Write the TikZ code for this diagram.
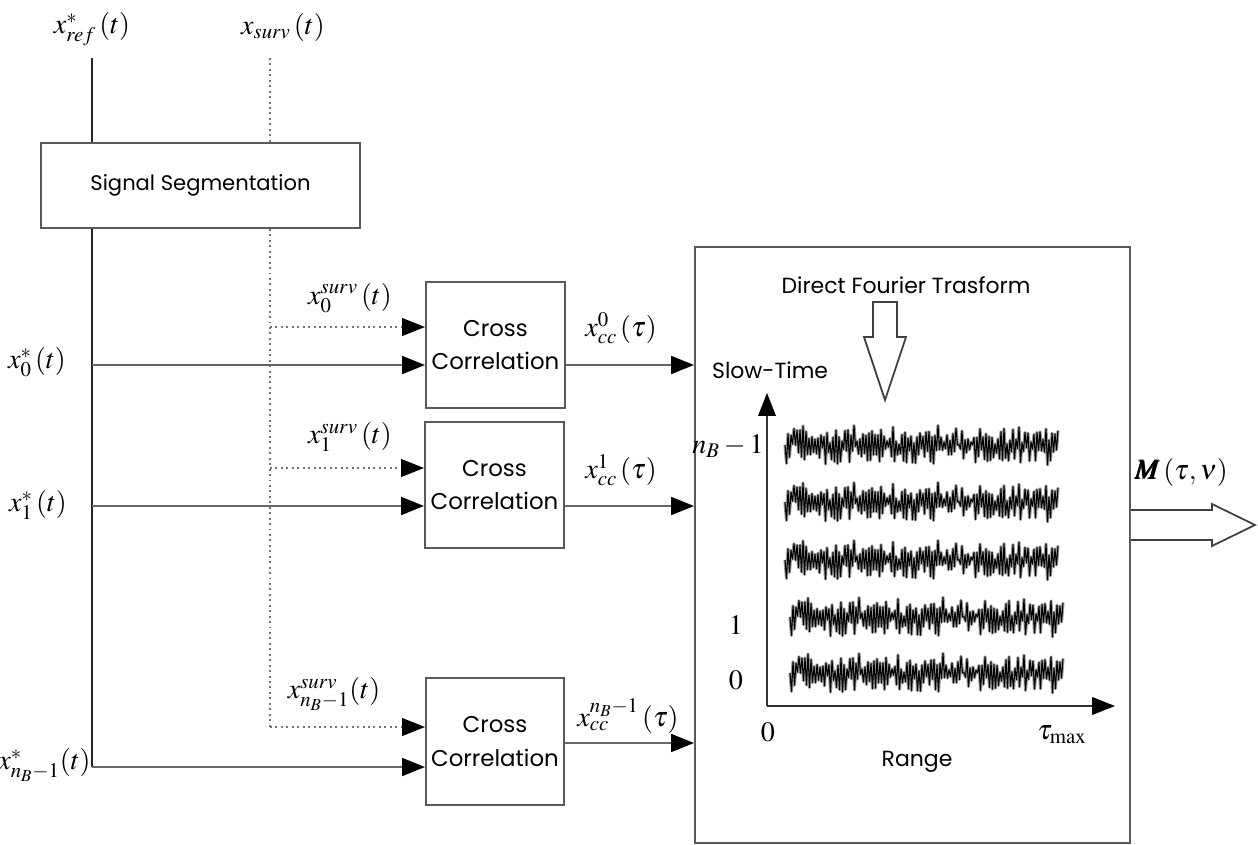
\documentclass[tikz,border=0pt]{standalone}
\usepackage[no-math]{fontspec}
\usepackage{amsmath}
\usepackage{mathptmx}
\usepackage{bm}
\newfontfamily\gothic{Poppins}
\usetikzlibrary{arrows.meta}

% one noisy row of the range profile
\newcommand{\noiserow}[2]{%
  \pgfmathsetseed{4711}
  \draw[black!40, line width=1.8pt, line join=round]
    (#1,#2) \foreach \k in {1,...,182}{ -- ({#1+1.5*\k},{#2+(2*mod(\k,2)-1)*(2+16*rnd)+3*rand}) };
  \pgfmathsetseed{4711}
  \draw[black, line width=0.6pt, line join=round]
    (#1,#2) \foreach \k in {1,...,182}{ -- ({#1+1.5*\k},{#2+(2*mod(\k,2)-1)*(2+16*rnd)+3*rand}) };
}

\begin{document}
\begin{tikzpicture}[x=0.02cm, y=-0.02cm,
  block/.style={draw=black!65, line width=1.1pt, font=\gothic\fontsize{13}{19}\selectfont, align=center, inner sep=0pt},
  lbl/.style={font=\fontsize{16}{18}\selectfont, inner sep=0pt},
  txt/.style={font=\gothic\fontsize{12.5}{15}\selectfont, inner sep=1pt},
  refline/.style={draw=black!85, line width=0.9pt},
  survline/.style={draw=black!55, line width=1.1pt, dotted},
  sig/.style={draw=black!60, line width=1.6pt, -{Triangle[length=13pt,width=10pt,color=black]}},
  dsig/.style={draw=black!55, line width=1.1pt, dotted, -{Triangle[length=13pt,width=10pt,color=black]}},
  axis/.style={draw=black!80, line width=0.9pt, -{Triangle[length=13pt,width=10pt,color=black]}},
  hollow/.style={draw=black!75, line width=1pt, fill=white}]

\useasboundingbox (0,0) rectangle (1258,845);

% Blocks
\node[block, minimum width=6.38cm, minimum height=1.7cm, font=\gothic\fontsize{12}{15}\selectfont] (seg) at (200.5,185.5) {Signal Segmentation};
\node[block, minimum width=2.78cm, minimum height=2.52cm] (cc0) at (495.5,345) {Cross\\Correlation};
\node[block, minimum width=2.78cm, minimum height=2.52cm] (cc1) at (494.5,485) {Cross\\Correlation};
\node[block, minimum width=2.76cm, minimum height=2.54cm] (ccN) at (495,741.5) {Cross\\Correlation};
\node[draw=black!65, line width=1.1pt, minimum width=8.7cm, minimum height=11.92cm] (dft) at (912.5,545) {};

% Input signals
\coordinate (reftop) at (92,58);
\coordinate (survtop) at (270,58);
\node[lbl] (refin) at (92,29) {$x^{*}_{ref}\left(t\right)$};
\node[lbl] (survin) at (283,27) {$x_{surv}\left(t\right)$};

\draw[refline] (reftop) -- (reftop |- seg.north);
\draw[survline] (survtop) -- (survtop |- seg.north);

% Trunk points
\coordinate (ref0) at (92,365);
\coordinate (ref1) at (92,506);
\coordinate (refN) at (92,767);
\coordinate (surv0) at (270,327);
\coordinate (surv1) at (270,468);
\coordinate (survN) at (270,727);

\draw[refline] (reftop |- seg.south) -- (refN);
\draw[survline] (survtop |- seg.south) -- (survN);

% Branches into the correlators
\draw[sig] (ref0) -- (ref0 -| cc0.west);
\draw[sig] (ref1) -- (ref1 -| cc1.west);
\draw[sig] (refN) -- (refN -| ccN.west);
\draw[dsig] (surv0) -- (surv0 -| cc0.west);
\draw[dsig] (surv1) -- (surv1 -| cc1.west);
\draw[dsig] (survN) -- (survN -| ccN.west);

\node[lbl] (in0) at (37,362) {$x^{*}_{0}\left(t\right)$};
\node[lbl] (in1) at (38,505) {$x^{*}_{1}\left(t\right)$};
\node[lbl, anchor=east] (inN) at (91,765) {$x^{*}_{n_B-1}\!\left(t\right)$};
\node[lbl] (s0) at (350,298) {$x^{surv}_{0}\left(t\right)$};
\node[lbl] (s1) at (350,437) {$x^{surv}_{1}\left(t\right)$};
\node[lbl] (sN) at (334,694) {$x^{surv}_{n_B-1}\!\left(t\right)$};

% Correlator outputs
\draw[sig] (cc0.east |- ref0) -- (dft.west |- ref0);
\draw[sig] (cc1.east |- ref1) -- (dft.west |- ref1);
\coordinate (outN) at (565,743);
\draw[sig] (outN) -- (dft.west |- outN);
\node[lbl] (o0) at (621,328) {$x^{0}_{cc}\left(\tau\right)$};
\node[lbl] (o1) at (621,470) {$x^{1}_{cc}\left(\tau\right)$};
\node[lbl] (oN) at (628,716) {$x^{n_B-1}_{cc}\left(\tau\right)$};

% Inside the Fourier block
\node[txt] (dftname) at (906,285) {Direct Fourier Trasform};
\draw[hollow] (873,302) -- (897,302) -- (897,337) -- (906,337) -- (885,400)
  -- (864,337) -- (873,337) -- cycle;
\node[txt, anchor=west] (slow) at (710,370) {Slow-Time};
\coordinate (orig) at (767,706);
\draw[axis] (orig) -- (767,393);
\draw[axis] (orig) -- (1115,706);
\node[lbl, anchor=east] (nB) at (764,446) {$n_B-1$};
\node[lbl] (one) at (736,625) {$1$};
\node[lbl] (zero) at (736,680) {$0$};
\node[lbl] (tau0) at (768,732) {$0$};
\node[lbl] (taumax) at (1062,735) {$\tau_{\max}$};
\node[txt] (range) at (917,762) {Range};

\noiserow{785}{445}
\noiserow{785}{502}
\noiserow{785}{560}
\noiserow{790}{617}
\noiserow{790}{673}

% Output
\draw[hollow] (dft.east |- 0,510) -- (1212,510) -- (1212,504) -- (1255,525)
  -- (1212,546) -- (1212,540) -- (dft.east |- 0,540);
\node[lbl] (out) at (1181,472) {$\bm{M}\left(\tau,\nu\right)$};

\end{tikzpicture}
\end{document}
